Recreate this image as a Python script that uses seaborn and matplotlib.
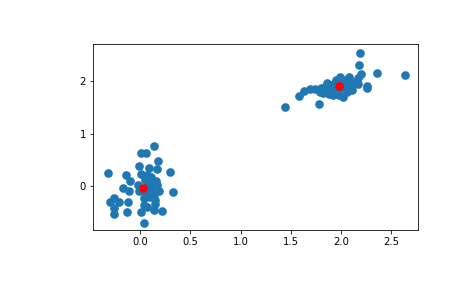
import matplotlib
matplotlib.use("Agg")
import matplotlib.pyplot as plt
import seaborn as sns
import pandas as pd

# cluster 1 points
x1 = [-0.32, -0.14, -0.10, -0.17, -0.11, -0.30, -0.26, -0.21, -0.26, -0.26,
      -0.12, -0.13, 0.01, 0.06, 0.14, 0.18, -0.01, 0.09, 0.17, 0.01,
      0.07, 0.11, 0.16, 0.30, 0.33, 0.19, 0.17, 0.13, 0.08, 0.06,
      0.09, 0.14, 0.15, 0.04, 0.01, 0.07, 0.14, 0.22, 0.04, -0.02,
      0.11, 0.04, -0.01, 0.08, 0.12, 0.05, 0.15]
y1 = [0.26, 0.21, 0.10, -0.03, -0.09, -0.29, -0.23, -0.30, -0.42, -0.53,
      -0.29, -0.49, 0.63, 0.63, 0.76, 0.49, 0.38, 0.35, 0.32, 0.24,
      0.22, 0.18, 0.11, 0.28, -0.11, -0.09, 0.02, 0.04, 0.08, -0.14,
      -0.20, -0.17, -0.33, -0.36, -0.49, -0.39, -0.44, -0.47, -0.70, 0.02,
      -0.06, -0.23, -0.08, 0.00, -0.12, 0.12, -0.25]
# cluster 2 points
x2 = [1.44, 1.58, 1.63, 1.69, 1.74, 1.78, 1.80, 1.82, 1.86, 1.89,
      1.92, 1.95, 1.99, 2.04, 2.02, 2.08, 2.11, 2.13, 2.17, 2.20,
      2.18, 2.19, 2.26, 2.26, 2.36, 2.64, 1.84, 1.90, 1.97, 2.05,
      2.06, 1.93, 1.87, 1.79, 2.02, 2.08, 1.98, 2.17, 1.94, 2.00,
      1.88, 2.10, 1.96, 2.03, 1.91]
y2 = [1.50, 1.72, 1.81, 1.84, 1.84, 1.57, 1.86, 1.77, 1.96, 1.83,
      1.74, 2.02, 2.08, 2.02, 1.70, 2.08, 1.83, 1.95, 2.05, 2.14,
      2.30, 2.53, 1.90, 1.86, 2.16, 2.12, 1.89, 1.92, 1.89, 1.92,
      1.79, 1.79, 1.87, 1.79, 1.99, 1.95, 1.73, 1.95, 1.97, 1.86,
      1.76, 2.00, 1.82, 1.95, 1.86]
# cluster centers
cx = [0.03, 1.98]
cy = [-0.04, 1.90]

df = pd.DataFrame({"x": x1 + x2, "y": y1 + y2})
cdf = pd.DataFrame({"x": cx, "y": cy})

plt.rcParams["font.family"] = ["DejaVu Sans"]
plt.rcParams["font.size"] = 10

fig = plt.figure(figsize=(465 / 72, 288 / 72), dpi=72)
ax = fig.add_axes([0.2, 0.2, 0.7, 0.647])
sns.scatterplot(data=df, x="x", y="y", ax=ax, color="#1f77b4", s=75, linewidth=0)
sns.scatterplot(data=cdf, x="x", y="y", ax=ax, color="red", s=75, linewidth=0)
ax.set_xlim(-0.472, 2.775)
ax.set_ylim(-0.836, 2.70)
ax.set_xlabel("")
ax.set_ylabel("")
ax.set_xticks([0.0, 0.5, 1.0, 1.5, 2.0, 2.5])
ax.set_yticks([0, 1, 2])
fig.savefig("out.png", dpi=72)
